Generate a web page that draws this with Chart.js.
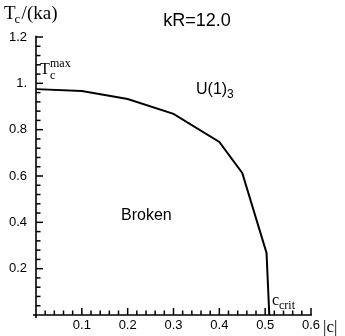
<!DOCTYPE html>
<html>
<head>
<meta charset="utf-8">
<script src="https://cdn.jsdelivr.net/npm/chart.js@4"></script>
<style>
  html, body { margin: 0; padding: 0; background: #fff; }
  #wrap { width: 345px; height: 336px; position: relative; }
</style>
</head>
<body>
<div id="wrap"><canvas id="graphic"></canvas></div>
<script>
const ctx = document.getElementById('graphic');

// data
let cVals = [0, 0.1, 0.2, 0.3, 0.4, 0.45, 0.503, 0.509];
let tcVals = [0.975, 0.967, 0.932, 0.868, 0.747, 0.613, 0.268, 0];

let xTicks = [0.1, 0.2, 0.3, 0.4, 0.5, 0.6];
let xLabels = ['0.1', '0.2', '0.3', '0.4', '0.5', '0.6'];
let yTicks = [0.2, 0.4, 0.6, 0.8, 1.0, 1.2];
let yLabels = ['0.2', '0.4', '0.6', '0.8', '1.', '1.2'];

const sans = '"Liberation Sans", Arial, sans-serif';
const serif = '"Liberation Serif", "Times New Roman", serif';

// axes drawn Mathematica style: ticks pointing inward, minor ticks between
const axesPlugin = {
    id: 'axesPlugin',
    afterDraw(chart) {
        const c = chart.ctx;
        const xs = chart.scales.x, ys = chart.scales.y;
        const x0 = xs.getPixelForValue(0), y0 = ys.getPixelForValue(0);
        c.save();
        c.strokeStyle = '#000';
        c.lineWidth = 1.6;
        c.beginPath();
        c.moveTo(x0 - 3, y0);
        c.lineTo(xs.getPixelForValue(0.602), y0);
        c.moveTo(x0, y0 + 3);
        c.lineTo(x0, ys.getPixelForValue(1.205));
        c.stroke();
        c.lineWidth = 1.5;
        for (let i = 1; i <= 30; i++) {
            const px = xs.getPixelForValue(i * 0.02);
            const len = i % 5 === 0 ? 7 : 4.5;
            c.beginPath();
            c.moveTo(px, y0);
            c.lineTo(px, y0 - len);
            c.stroke();
        }
        for (let i = 1; i <= 30; i++) {
            const py = ys.getPixelForValue(i * 0.04);
            const len = i % 5 === 0 ? 7 : 4.5;
            c.beginPath();
            c.moveTo(x0, py);
            c.lineTo(x0 + len, py);
            c.stroke();
        }

        c.fillStyle = '#000';
        c.textBaseline = 'alphabetic';
        // axis titles
        c.font = '19px ' + serif;
        c.fillText('T', 4, 19);
        let w = c.measureText('T').width;
        c.font = '13px ' + serif;
        c.fillText('c', 4 + w - 1, 23);
        c.font = '19px ' + serif;
        c.fillText('/(ka)', 4 + w + 6, 19);
        c.font = '17px ' + serif;
        c.fillText('|c|', 323, 332);
        // title
        c.font = '18px ' + sans;
        c.textAlign = 'center';
        c.fillText('kR=12.0', 197, 26);
        c.textAlign = 'left';
        // region labels
        c.font = '16px ' + sans;
        c.fillText('U(1)', 196, 94);
        w = c.measureText('U(1)').width;
        c.font = '12px ' + sans;
        c.fillText('3', 196 + w, 98);
        c.font = '16px ' + sans;
        c.fillText('Broken', 121, 220);
        // point labels
        c.font = '16px ' + serif;
        c.fillText('T', 40, 74);
        c.font = '12px ' + serif;
        c.fillText('max', 50, 67);
        c.fillText('c', 50, 79);
        c.font = '16px ' + serif;
        c.fillText('c', 272, 305);
        c.font = '12px ' + serif;
        c.fillText('crit', 279, 309);
        c.restore();
    }
};

let grafico = new Chart(ctx, {
    type: 'scatter',
    data: {
        datasets: [{
            data: cVals.map((v, i) => ({ x: v, y: tcVals[i] })),
            showLine: true,
            borderColor: '#000',
            borderWidth: 2,
            pointRadius: 0,
            tension: 0,
            clip: false
        }]
    },
    options: {
        responsive: true,
        maintainAspectRatio: false,
        animation: false,
        devicePixelRatio: 1,
        layout: { padding: { top: 37, right: 34, left: 0, bottom: 0 } },
        plugins: { legend: { display: false }, tooltip: { enabled: false } },
        scales: {
            x: {
                type: 'linear',
                min: 0,
                max: 0.6,
                grid: { display: false, drawTicks: false },
                border: { display: false },
                afterBuildTicks: s => { s.ticks = xTicks.map(v => ({ value: v })); },
                afterFit: s => { s.height = 21; },
                ticks: {
                    autoSkip: false,
                    maxRotation: 0,
                    padding: 3,
                    color: '#000',
                    font: { family: sans, size: 13 },
                    callback: (v, i) => xLabels[i]
                }
            },
            y: {
                type: 'linear',
                min: 0,
                max: 1.2,
                grid: { display: false, drawTicks: false },
                border: { display: false },
                afterBuildTicks: s => { s.ticks = yTicks.map(v => ({ value: v })); },
                afterFit: s => { s.width = 36; },
                ticks: {
                    autoSkip: false,
                    padding: 9,
                    color: '#000',
                    font: { family: sans, size: 13 },
                    callback: (v, i) => yLabels[i]
                }
            }
        }
    },
    plugins: [axesPlugin]
});
</script>
</body>
</html>
